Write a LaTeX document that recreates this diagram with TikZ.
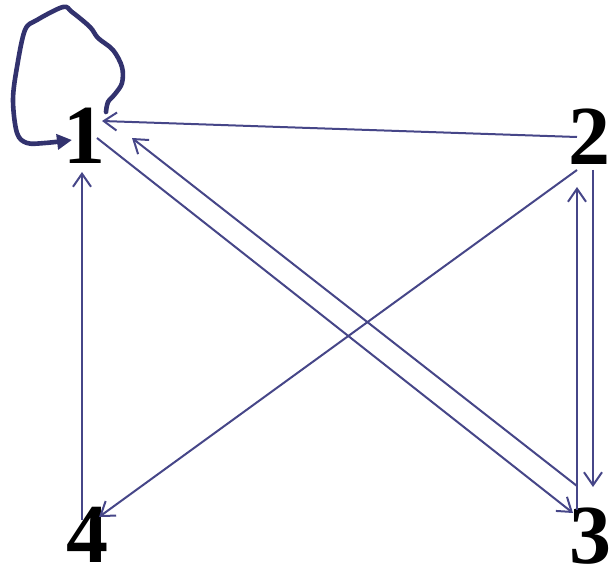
\documentclass[tikz,border=0pt]{standalone}
\usepackage{fontspec}
\setmainfont{Liberation Serif}
\usetikzlibrary{arrows.meta}
\definecolor{edgecol}{RGB}{70,70,136}
\definecolor{loopcol}{RGB}{50,50,110}
\tikzset{
  num/.style={inner sep=0pt, font=\fontsize{84}{84}\selectfont\bfseries},
  edge/.style={draw=edgecol, line width=2pt, -{Straight Barb[length=13pt,width=18pt,line width=2pt]}},
  selfloop/.style={draw=loopcol, line width=4.6pt, line cap=round, line join=round, -{Triangle[length=15pt,width=15pt]}}
}
\begin{document}
\begin{tikzpicture}[x=1pt,y=-1pt]
\useasboundingbox (0,0) rectangle (611,577);
\node[num] (n1) at (84,136) {1};
\node[num] (n2) at (589,137) {2};
\node[num] (n3) at (590,536) {3};
\node[num] (n4) at (87,535) {4};
% 2 -> 1
\draw[edge] ([shift={(-12,0)}]n2.center) -- ([shift={(18,-15)}]n1.center);
% 1 -> 3
\draw[edge] ([shift={(13,2)}]n1.center) -- ([shift={(-17,-23)}]n3.center);
% 3 -> 1
\draw[edge] ([shift={(-13,-50)}]n3.center) -- ([shift={(48,2)}]n1.center);
% 2 -> 4
\draw[edge] ([shift={(-12,33)}]n2.center) -- ([shift={(12,-18)}]n4.center);
% 4 -> 1
\draw[edge] ([shift={(-5,-15)}]n4.center) -- ([shift={(-2,36)}]n1.center);
% 3 -> 2
\draw[edge] ([shift={(-13,-26)}]n3.center) -- ([shift={(-12,50)}]n2.center);
% 2 -> 3
\draw[edge] ([shift={(4,33)}]n2.center) -- ([shift={(3,-49)}]n3.center);
% self loop on 1
\begin{scope}[shift={(n1.center)}]
\draw[selfloop] plot[smooth, tension=0.55] coordinates {(22,-24) (24,-34) (31,-42) (38,-53) (38,-69) (29,-86) (14,-98) (6,-109) (-12,-124) (-21,-129) (-47,-116) (-59,-106) (-67,-69) (-71,-36) (-67,-3) (-57,7) (-39,7) (-12,4)};
\end{scope}
\end{tikzpicture}
\end{document}
